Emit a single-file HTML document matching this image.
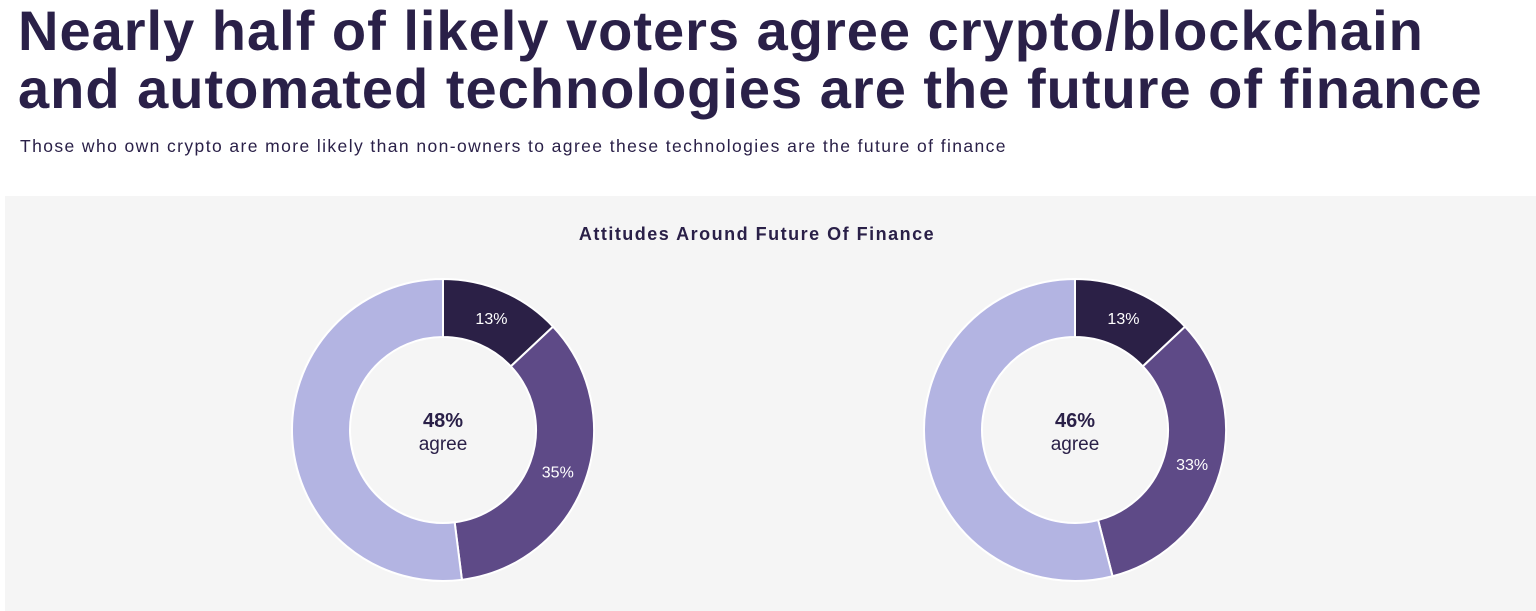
<!DOCTYPE html>
<html><head><meta charset="utf-8"><style>
body{margin:0;width:1536px;height:611px;background:#fff;font-family:"Liberation Sans",sans-serif;color:#2a2048;overflow:hidden;position:relative}
#title{position:absolute;left:18px;top:2px;font-size:56px;font-weight:bold;line-height:58px;letter-spacing:1.0px;margin:0;white-space:nowrap}
#sub{position:absolute;left:20px;top:136px;font-size:17.5px;letter-spacing:1.4px;margin:0;white-space:nowrap}
#panel{position:absolute;left:5px;top:196px;width:1531px;height:415px;background:#f5f5f5}
</style></head><body>
<h1 id="title">Nearly half of likely voters agree crypto/blockchain<br>and automated technologies are the future of finance</h1>
<p id="sub">Those who own crypto are more likely than non-owners to agree these technologies are the future of finance</p>
<div id="panel"></div>
<svg id="svg" width="1536" height="611" style="position:absolute;left:0;top:0">
<text x="757" y="240" text-anchor="middle" font-size="18" font-weight="bold" letter-spacing="1.5" fill="#2a2048">Attitudes Around Future Of Finance</text>
</svg>
<script>
const donutNames=['donut-left','donut-right'];
const stronglyAgree=[13,13];
const somewhatAgree=[35,33];
const totalAgree=[48,46];
const centers=[[443,430],[1075,430]];
const colors=['#2b2046','#5e4a87','#b3b4e2'];
const svg=document.getElementById('svg');
const NS='http://www.w3.org/2000/svg';
const R=151,r=93;
function pt(a,rad,c){return [c[0]+rad*Math.sin(a),c[1]-rad*Math.cos(a)];}
function arc(a0,a1,c){const l=a1-a0>Math.PI?1:0;const p1=pt(a0,R,c),p2=pt(a1,R,c),p3=pt(a1,r,c),p4=pt(a0,r,c);
return `M${p1}L${p1}A${R},${R} 0 ${l} 1 ${p2}L${p3}A${r},${r} 0 ${l} 0 ${p4}Z`;}
for(let i=0;i<2;i++){
 const c=centers[i];
 const vals=[stronglyAgree[i],somewhatAgree[i],100-stronglyAgree[i]-somewhatAgree[i]];
 const g=document.createElementNS(NS,'g');
 
 
 svg.appendChild(g);
 let a=0;
 vals.forEach((v,j)=>{
  const a1=a+v/100*2*Math.PI;
  const p=document.createElementNS(NS,'path');
  p.setAttribute('d',arc(a,a1,c));p.setAttribute('fill',colors[j]);p.setAttribute('stroke','#fff');p.setAttribute('stroke-width','2');
  
  
  g.appendChild(p);
  if(j<2){const m=(a+a1)/2;const q=pt(m,(R+r)/2,c);
   const t=document.createElementNS(NS,'text');
   t.setAttribute('x',q[0]);t.setAttribute('y',q[1]+6);t.setAttribute('text-anchor','middle');t.setAttribute('fill','#fff');t.setAttribute('font-size','16');
   t.textContent=v+'%';
   
   
   g.appendChild(t);}
  a=a1;
 });
 const t1=document.createElementNS(NS,'text');
 t1.setAttribute('x',c[0]);t1.setAttribute('y',c[1]-3);t1.setAttribute('text-anchor','middle');t1.setAttribute('font-size','20');t1.setAttribute('font-weight','bold');t1.setAttribute('fill','#2a2048');
 t1.textContent=totalAgree[i]+'%';
 
 
 g.appendChild(t1);
 const t2=document.createElementNS(NS,'text');
 t2.setAttribute('x',c[0]);t2.setAttribute('y',c[1]+20);t2.setAttribute('text-anchor','middle');t2.setAttribute('font-size','19');t2.setAttribute('fill','#2a2048');
 t2.textContent='agree';
 
 
 g.appendChild(t2);
}
</script>
</body></html>
